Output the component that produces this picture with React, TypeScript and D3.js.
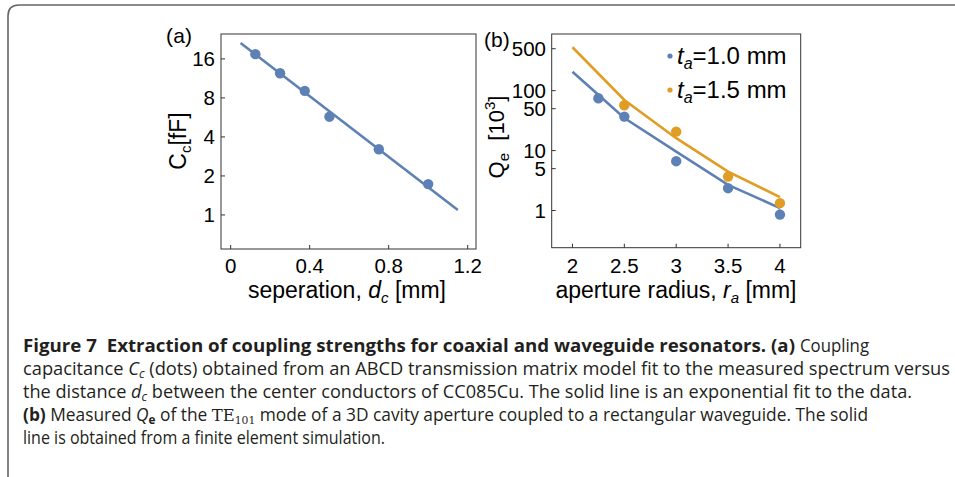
import React from 'react';
import * as d3 from 'd3';

// Panel (a)
const sepX = [0.125, 0.25, 0.375, 0.5, 0.75, 1.0];
const capY = [17.4, 12.4, 9.07, 5.73, 3.21, 1.73];
const fitX = [0.05, 1.15];
const fitY = [21.2, 1.09];
const aXTicks = [0, 0.4, 0.8, 1.2];
const aYTicks = [1, 2, 4, 8, 16];

// Panel (b)
const radX1 = [2.25, 2.5, 3, 3.5, 4];
const qe1 = [74.7, 36.9, 6.66, 2.36, 0.857];
const radX2 = [2.5, 3, 3.5, 4];
const qe2 = [57.1, 20.7, 3.69, 1.33];
const simX = [2, 2.5, 3, 3.5, 4];
const sim1 = [207, 35, 9.6, 2.68, 1.1];
const sim2 = [529, 70, 16.1, 4.47, 1.67];
const bXTicks = [2, 2.5, 3, 3.5, 4];
const bYTicks = [1, 5, 10, 50, 100, 500];

const BLUE = '#5E81B5';
const ORANGE = '#E19C24';
const FONT = '"Liberation Sans", Arial, sans-serif';
const CAP = '"Open Sans", "Noto Sans", sans-serif';

export default function App() {
  const xa = d3.scaleLinear().domain([-0.049, 1.242]).range([221, 476]);
  const ya = d3.scaleLog().base(2).domain([0.546, 24.9]).range([249, 34]);
  const xb = d3.scaleLinear().domain([1.8, 4.2]).range([551.7, 800.7]);
  const yb = d3.scaleLog().domain([0.24, 881]).range([247.7, 34]);

  const lineA = d3.line<number>().x((d, i) => xa(fitX[i])).y((d) => ya(d));
  const lineB = d3.line<number>().x((d, i) => xb(simX[i])).y((d) => yb(d));

  const fs = 20.5;
  const ts = 23;
  const tl = 4;

  return (
    <svg width={955} height={477} style={{ position: 'absolute', left: 0, top: 0, background: '#fff' }}
      fontFamily={FONT}>
      <rect x={0} y={0} width={955} height={477} fill="#fff" />
      {/* outer border */}
      <path d="M 8 477 L 8 16 Q 8 5 19 5 L 955 5" fill="none" stroke="#666" strokeWidth={1.6} />

      {/* ---------- Panel (a) ---------- */}
      <g>
        <rect x={xa.range()[0]} y={34} width={xa.range()[1] - xa.range()[0]} height={249 - 34}
          fill="none" stroke="#333" strokeWidth={1} />
        {aXTicks.map((t) => (
          <g key={'ax' + t}>
            <line x1={xa(t)} x2={xa(t)} y1={249} y2={249 - tl} stroke="#333" />
            <text x={xa(t)} y={273} fontSize={fs} textAnchor="middle">{t === 0 ? '0' : String(t)}</text>
          </g>
        ))}
        {aYTicks.map((t) => (
          <g key={'ay' + t}>
            <line x1={221} x2={221 + tl} y1={ya(t)} y2={ya(t)} stroke="#333" />
            <text x={215} y={ya(t)} dy="0.36em" fontSize={fs} textAnchor="end">{t}</text>
          </g>
        ))}
        <path d={lineA(fitY) || ''} fill="none" stroke={BLUE} strokeWidth={2.6} />
        {sepX.map((x, i) => (
          <circle key={'ap' + i} cx={xa(x)} cy={ya(capY[i])} r={5.2} fill={BLUE} />
        ))}
        <text x={166} y={43} fontSize={21} textLength={26} lengthAdjust="spacing">(a)</text>
        <text transform="translate(186,141) rotate(-90)" fontSize={ts} textAnchor="middle">
          C<tspan fontSize={15} dy={5}>c</tspan><tspan dy={-5}>[fF]</tspan>
        </text>
        <text x={347} y={298} fontSize={ts} textAnchor="middle">
          seperation, <tspan fontStyle="italic">d</tspan><tspan fontStyle="italic" fontSize={15} dy={5}>c</tspan><tspan dy={-5}> [mm]</tspan>
        </text>
      </g>

      {/* ---------- Panel (b) ---------- */}
      <g>
        <rect x={551.7} y={34} width={800.7 - 551.7} height={247.7 - 34}
          fill="none" stroke="#333" strokeWidth={1} />
        {bXTicks.map((t) => (
          <g key={'bx' + t}>
            <line x1={xb(t)} x2={xb(t)} y1={247.7} y2={247.7 - tl} stroke="#333" />
            <text x={xb(t)} y={273} fontSize={fs} textAnchor="middle">{String(t)}</text>
          </g>
        ))}
        {bYTicks.map((t) => (
          <g key={'by' + t}>
            <line x1={551.7} x2={551.7 + tl} y1={yb(t)} y2={yb(t)} stroke="#333" />
            <text x={546} y={yb(t)} dy="0.36em" fontSize={fs} textAnchor="end">{t}</text>
          </g>
        ))}
        <path d={lineB(sim2) || ''} fill="none" stroke={ORANGE} strokeWidth={2.6} />
        <path d={lineB(sim1) || ''} fill="none" stroke={BLUE} strokeWidth={2.6} />
        {radX1.map((x, i) => (
          <circle key={'b1' + i} cx={xb(x)} cy={yb(qe1[i])} r={5.2} fill={BLUE} />
        ))}
        {radX2.map((x, i) => (
          <circle key={'b2' + i} cx={xb(x)} cy={yb(qe2[i])} r={5.2} fill={ORANGE} />
        ))}
        {/* legend */}
        <circle cx={670} cy={56} r={2.6} fill={BLUE} />
        <text x={677} y={64} fontSize={24}>
          <tspan fontStyle="italic">t</tspan><tspan fontStyle="italic" fontSize={16} dy={5}>a</tspan><tspan dy={-5}>=1.0 mm</tspan>
        </text>
        <circle cx={670} cy={90} r={2.6} fill={ORANGE} />
        <text x={677} y={98} fontSize={24}>
          <tspan fontStyle="italic">t</tspan><tspan fontStyle="italic" fontSize={16} dy={5}>a</tspan><tspan dy={-5}>=1.5 mm</tspan>
        </text>
        <text x={484} y={47} fontSize={21}>(b)</text>
        <text transform="translate(504,137) rotate(-90)" fontSize={22} textAnchor="middle">
          Q<tspan fontSize={15} dy={5}>e</tspan><tspan dy={-5}>{'\u00a0 [10'}</tspan><tspan fontSize={15} dy={-9}>3</tspan><tspan dy={9}>]</tspan>
        </text>
        <text x={676} y={298} fontSize={ts} textAnchor="middle">
          aperture radius, <tspan fontStyle="italic">r</tspan><tspan fontStyle="italic" fontSize={15} dy={5}>a</tspan><tspan dy={-5}> [mm]</tspan>
        </text>
      </g>

      {/* ---------- Caption ---------- */}
      <g fontFamily={CAP} fontSize={18.5} fill="#231f20">
        <text x={23} y={352} fontWeight="bold" textLength={772} lengthAdjust="spacingAndGlyphs">
          {'Figure 7\u00a0 Extraction of coupling strengths for coaxial and waveguide resonators. (a)'}
        </text>
        <text x={800} y={352} textLength={69} lengthAdjust="spacingAndGlyphs">Coupling</text>
        <text x={23} y={375} textLength={927} lengthAdjust="spacingAndGlyphs">
          capacitance <tspan fontStyle="italic">C</tspan><tspan fontStyle="italic" fontSize={12.5} dy={3}>c</tspan><tspan dy={-3}> (dots) obtained from an ABCD transmission matrix model fit to the measured spectrum versus</tspan>
        </text>
        <text x={23} y={398} textLength={889} lengthAdjust="spacingAndGlyphs">
          the distance <tspan fontStyle="italic">d</tspan><tspan fontStyle="italic" fontSize={12.5} dy={3}>c</tspan><tspan dy={-3}> between the center conductors of CC085Cu. The solid line is an exponential fit to the data.</tspan>
        </text>
        <text x={23} y={421} textLength={845} lengthAdjust="spacingAndGlyphs">
          <tspan fontWeight="bold">(b)</tspan> Measured <tspan fontStyle="italic">Q</tspan><tspan fontWeight="bold" fontSize={12.5} dy={3}>e</tspan><tspan dy={-3}> of the </tspan><tspan fontFamily='"DejaVu Serif", serif' fontSize={17.5}>TE</tspan><tspan fontFamily='"DejaVu Serif", serif' fontSize={11.5} dy={3}>101</tspan><tspan dy={-3}> mode of a 3D cavity aperture coupled to a rectangular waveguide. The solid</tspan>
        </text>
        <text x={23} y={444} textLength={362} lengthAdjust="spacingAndGlyphs">
          line is obtained from a finite element simulation.
        </text>
      </g>
    </svg>
  );
}
